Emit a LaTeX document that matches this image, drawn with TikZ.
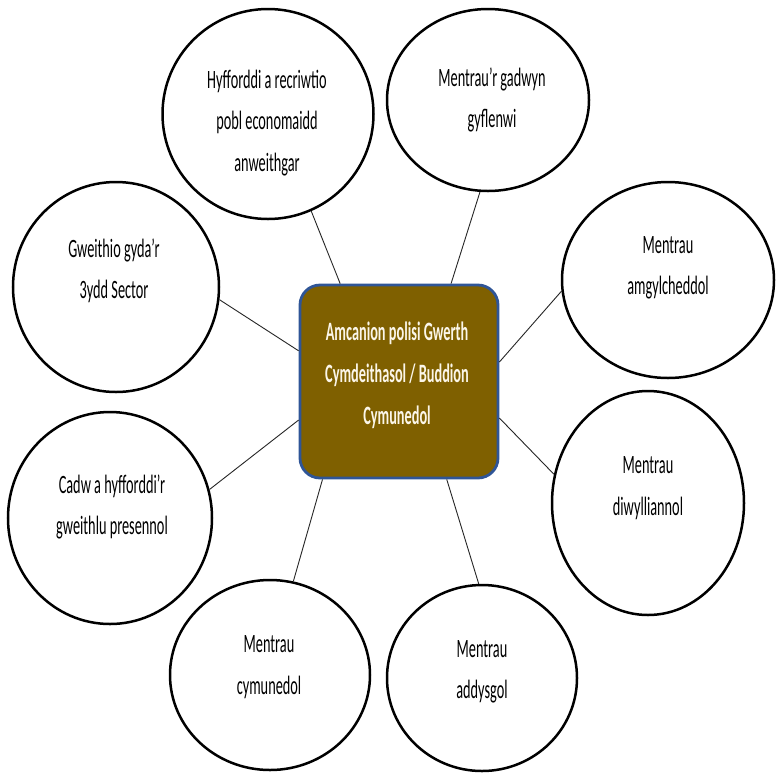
\documentclass[tikz,border=0pt]{standalone}
\usepackage{fontspec}
\setmainfont{Carlito}[FakeStretch=0.54]
\usetikzlibrary{shapes.geometric}
\definecolor{boxfill}{HTML}{7F6000}
\definecolor{boxline}{HTML}{2F5597}
\definecolor{boxtext}{HTML}{FBF6E9}
\begin{document}
\begin{tikzpicture}[x=1pt,y=-1pt,
  bubble/.style={ellipse, draw=black, line width=2.5pt, inner sep=0pt, fill=white},
  bubbletext/.style={align=center, font=\fontsize{26.5}{41.5}\selectfont, text=black, inner sep=0pt},
  hub/.style={rectangle, rounded corners=20pt, draw=boxline, line width=2.8pt, fill=boxfill, minimum width=198pt, minimum height=193pt, inner sep=0pt},
  hubtext/.style={align=center, font=\fontsize{26.5}{42}\selectfont\bfseries, text=boxtext, inner sep=0pt},
  link/.style={draw=black!85, line width=0.9pt}]
\useasboundingbox (0,0) rectangle (776,772);
\fill[white] (0,0) rectangle (776,772);

% hub
\node[hub] (hub) at (399,381.5) {};
\node[hubtext] (hubt) at (397,375) {Amcanion polisi Gwerth\\Cymdeithasol / Buddion\\Cymunedol};

% bubbles
\node[bubble, minimum width=211pt, minimum height=210pt] (e1) at (268,114) {};
\node[bubble, minimum width=202pt, minimum height=182pt] (e2) at (488,100) {};
\node[bubble, minimum width=206pt, minimum height=210pt] (e3) at (116,287) {};
\node[bubble, minimum width=212pt, minimum height=196pt] (e4) at (668,280) {};
\node[bubble, minimum width=204pt, minimum height=212pt] (e5) at (110,518) {};
\node[bubble, minimum width=192pt, minimum height=224pt] (e6) at (648,503) {};
\node[bubble, minimum width=200pt, minimum height=190pt] (e7) at (270,675) {};
\node[bubble, minimum width=190pt, minimum height=186pt] (e8) at (482,678) {};

% bubble texts
\node[bubbletext] (t1) at (267,123) {Hyfforddi a recriwtio\\pobl economaidd\\anweithgar};
\node[bubbletext] (t2) at (492,100) {Mentrau’r gadwyn\\gyflenwi};
\node[bubbletext] (t3) at (114,271) {Gweithio gyda’r\\3ydd Sector};
\node[bubbletext] (t4) at (668,268) {Mentrau\\amgylcheddol};
\node[bubbletext] (t5) at (112,507) {Cadw a hyfforddi’r\\gweithlu presennol};
\node[bubbletext] (t6) at (648,488) {Mentrau\\diwylliannol};
\node[bubbletext] (t7) at (269,667) {Mentrau\\cymunedol};
\node[bubbletext] (t8) at (482,672) {Mentrau\\addysgol};

% connectors
\draw[link] (hub.121.4) -- (e1.294.6);
\draw[link] (hub.62.1) -- (e2.265);
\draw[link] (hub.163.4) -- (e3.353.8);
\draw[link] (hub.11.1) -- (e4.186.4);
\draw[link] (hub.201.3) -- (e5.16.4);
\draw[link] (hub.340.8) -- (e6.163.6);
\draw[link] (hub.232.5) -- (e7.76.7);
\draw[link] (hub.296.4) -- (e8.92.5);
\end{tikzpicture}
\end{document}
